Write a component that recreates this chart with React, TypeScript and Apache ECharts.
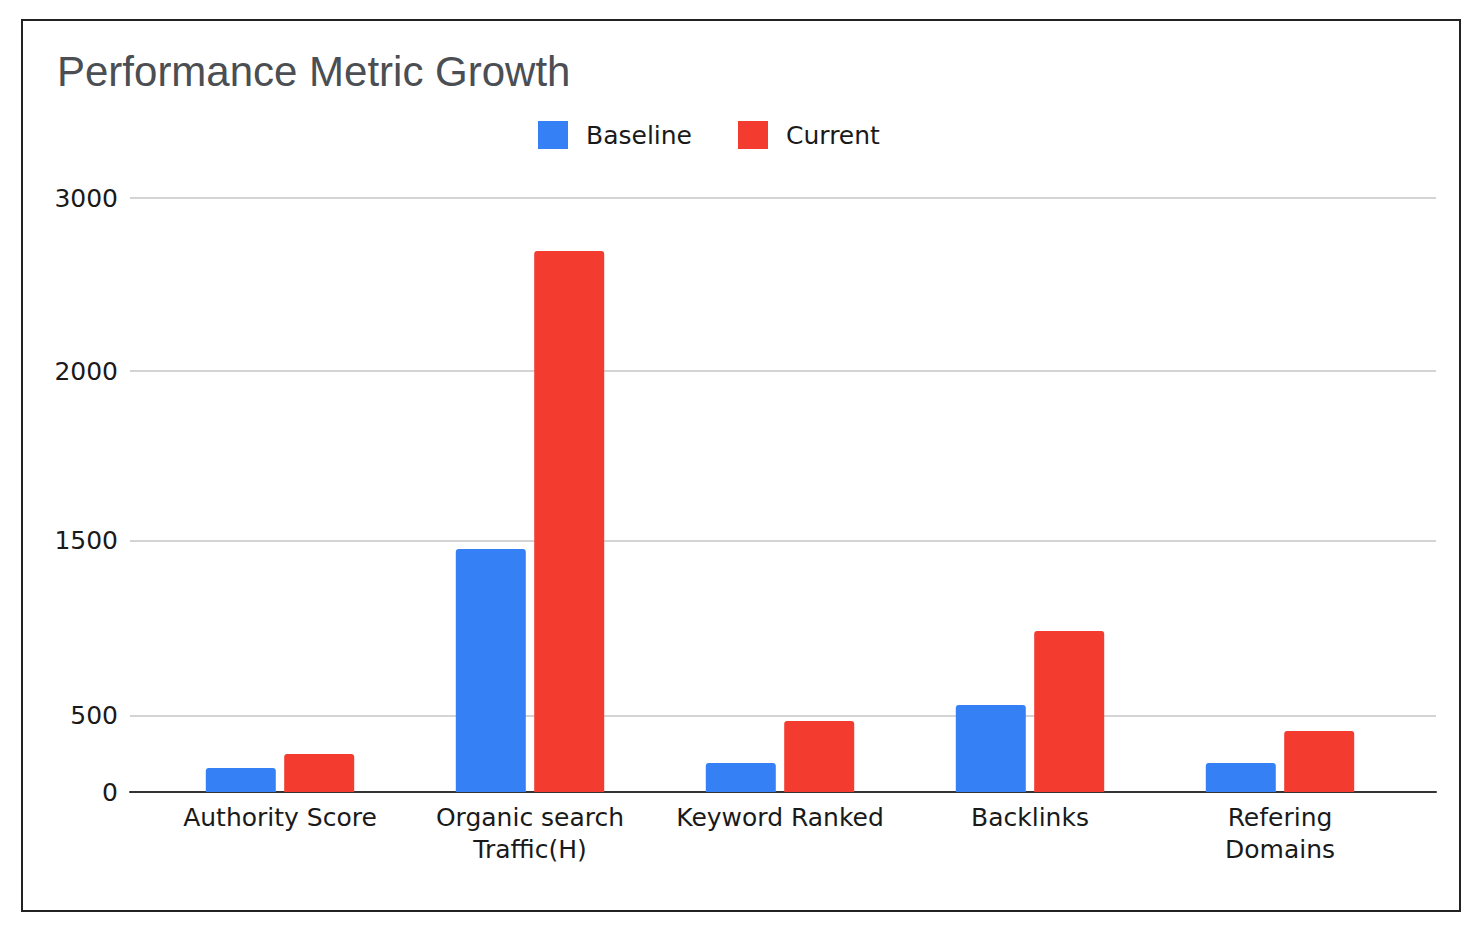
import React, { useEffect, useRef } from "react";
import * as echarts from "echarts";

const categories = [
  "Authority Score",
  "Organic search\nTraffic(H)",
  "Keyword Ranked",
  "Backlinks",
  "Refering\nDomains",
];
const seriesNames = ["Baseline", "Current"];
const baselineValues = [121, 1227, 146, 439, 146];
const currentValues = [192, 2732, 359, 813, 308];
const yTickValues = [0, 384, 1268, 2126, 3000];
const yTickLabels = ["0", "500", "1500", "2000", "3000"];
const colors = ["#3580f4", "#f43b30"];

export default function App() {
  const ref = useRef<HTMLDivElement>(null);
  useEffect(() => {
    document.body.style.margin = "0";
    const chart = echarts.init(ref.current!, null, { renderer: "svg" });
    const font = "DejaVu Sans, Verdana, sans-serif";
    chart.setOption({
      animation: false,
      backgroundColor: "#ffffff",
      title: {
        text: "Performance Metric Growth",
        left: 52,
        top: 45,
        textStyle: { fontFamily: "Liberation Sans, Arial, sans-serif", fontSize: 42, fontWeight: "normal", color: "#4b4e53" },
      },
      legend: {
        data: seriesNames,
        left: 533,
        top: 116,
        itemWidth: 30,
        itemHeight: 28,
        itemGap: 46,
        icon: "rect",
        textStyle: { fontFamily: font, fontSize: 25, color: "#1a1a1a", padding: [0, 0, 0, 13] },
      },
      graphic: [
        {
          type: "rect",
          shape: { x: 22, y: 20, width: 1438, height: 891 },
          style: { fill: "none", stroke: "#222", lineWidth: 2 },
          silent: true,
        },
      ],
      grid: [
        { left: 155, right: 74, top: 198, bottom: 142 },
        { left: 130, right: 43, top: 198, bottom: 142 },
      ],
      xAxis: [
        {
          type: "category",
          gridIndex: 0,
          data: categories,
          axisLine: { show: false },
          axisTick: { show: false },
          axisLabel: { fontFamily: font, fontSize: 25, color: "#1a1a1a", lineHeight: 32, margin: 9, interval: 0 },
        },
        {
          type: "value",
          gridIndex: 1,
          min: 0,
          max: 1,
          axisLine: { show: true, lineStyle: { color: "#333", width: 2 } },
          axisTick: { show: false },
          axisLabel: { show: false },
          splitLine: { show: false },
        },
      ],
      yAxis: [
        {
          type: "value",
          gridIndex: 0,
          min: 0,
          max: 3000,
          show: false,
          splitLine: { show: false },
        },
        {
          type: "value",
          gridIndex: 1,
          min: 0,
          max: 3000,
          axisLine: { show: false },
          axisTick: { show: false, customValues: yTickValues },
          axisLabel: {
            customValues: yTickValues,
            formatter: (v: number) => {
              const i = yTickValues.indexOf(v);
              return i >= 0 ? yTickLabels[i] : "";
            },
            fontFamily: font,
            fontSize: 25,
            color: "#1a1a1a",
            margin: 12,
          },
          splitLine: { show: true, lineStyle: { color: "#d4d4d4", width: 2 } },
        },
      ],
      series: [
        {
          name: seriesNames[0],
          type: "bar",
          xAxisIndex: 0,
          yAxisIndex: 0,
          data: baselineValues,
          barWidth: 70,
          barGap: "12%",
          itemStyle: { color: colors[0], borderRadius: [3, 3, 0, 0] },
        },
        {
          name: seriesNames[1],
          type: "bar",
          xAxisIndex: 0,
          yAxisIndex: 0,
          data: currentValues,
          barWidth: 70,
          barGap: "12%",
          itemStyle: { color: colors[1], borderRadius: [3, 3, 0, 0] },
        },
      ],
    });
    return () => chart.dispose();
  }, []);
  return <div ref={ref} style={{ position: "absolute", left: 0, top: 0, width: 1479, height: 934 }} />;
}
